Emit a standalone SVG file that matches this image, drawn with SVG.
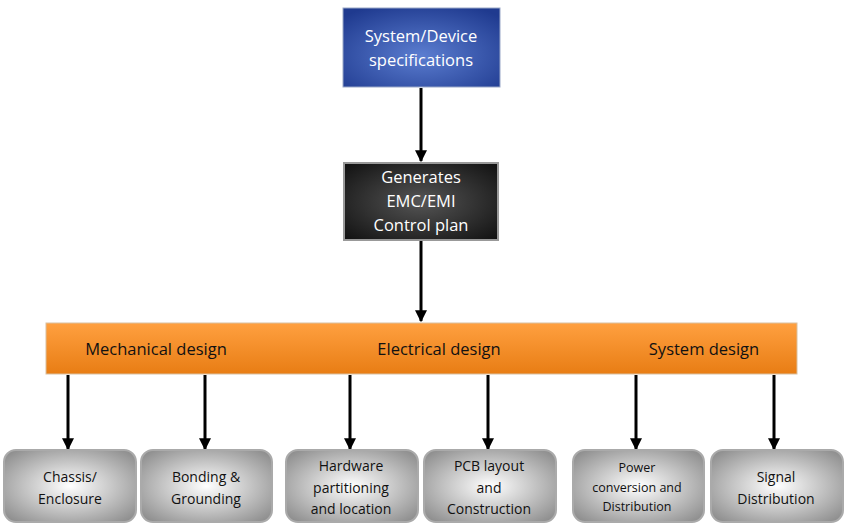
<svg xmlns="http://www.w3.org/2000/svg" width="850" height="528" viewBox="0 0 850 528">
<style>
text{font-family:"Open Sans","Noto Sans",sans-serif;text-anchor:middle}
.w{fill:#fff;font-size:16.5px}
.k{fill:#111;font-size:16.5px}
.s{fill:#111;font-size:14px}
.c{stroke:#000;stroke-width:3;fill:none;marker-end:url(#a)}
.g{fill:url(#gr);stroke:#aaa;stroke-width:2}
</style>
<defs>
<marker id="a" viewBox="0 0 10 10" refX="9" refY="5" markerWidth="4" markerHeight="4" orient="auto"><path d="M0,0L10,5L0,10z" fill="#000"/></marker>
<radialGradient id="bl" cx="50%" cy="60%" r="70%"><stop offset="0" stop-color="#5b7dd0"/><stop offset="1" stop-color="#1f3a8f"/></radialGradient>
<radialGradient id="bk" cx="50%" cy="50%" r="70%"><stop offset="0" stop-color="#555"/><stop offset="1" stop-color="#111"/></radialGradient>
<linearGradient id="or" x1="0" y1="0" x2="0" y2="1"><stop offset="0" stop-color="#ffa040"/><stop offset="1" stop-color="#e87d14"/></linearGradient>
<radialGradient id="gr" cx="50%" cy="50%" r="65%"><stop offset="0" stop-color="#fff"/><stop offset="1" stop-color="#8e8e8e"/></radialGradient>
</defs>
<g id="connectors">
<path class="c" d="M421,88V161"/>
<path class="c" d="M421,241V321"/>
<path class="c" d="M68,375V449"/>
<path class="c" d="M205,375V449"/>
<path class="c" d="M350,375V449"/>
<path class="c" d="M488,375V449"/>
<path class="c" d="M636,375V449"/>
<path class="c" d="M774,375V449"/>
</g>
<g id="spec"><rect x="343" y="8" width="157" height="79" fill="url(#bl)" stroke="#9aa8c8"/><text class="w" x="421" y="42">System/Device</text><text class="w" x="421" y="66">specifications</text></g>
<g id="plan"><rect x="344" y="163" width="154" height="77" fill="url(#bk)" stroke="#999" stroke-width="2"/><text class="w" x="421" y="183">Generates</text><text class="w" x="421" y="207">EMC/EMI</text><text class="w" x="421" y="231">Control plan</text></g>
<g id="bar"><rect x="46" y="323" width="751" height="51" fill="url(#or)" stroke="#d9c0a0"/><text class="k" x="156" y="355">Mechanical design</text><text class="k" x="439" y="355">Electrical design</text><text class="k" x="704" y="355">System design</text></g>
<g id="n1"><rect class="g" x="4" y="450" width="132" height="72" rx="12"/><text class="s" x="70" y="482">Chassis/</text><text class="s" x="70" y="504">Enclosure</text></g>
<g id="n2"><rect class="g" x="141" y="450" width="131" height="72" rx="12"/><text class="s" x="206" y="482">Bonding &amp;</text><text class="s" x="206" y="504">Grounding</text></g>
<g id="n3"><rect class="g" x="286" y="450" width="132" height="72" rx="12"/><text class="s" x="351" y="471">Hardware</text><text class="s" x="351" y="493">partitioning</text><text class="s" x="351" y="514">and location</text></g>
<g id="n4"><rect class="g" x="424" y="450" width="132" height="72" rx="12"/><text class="s" x="489" y="471">PCB layout</text><text class="s" x="489" y="493">and</text><text class="s" x="489" y="514">Construction</text></g>
<g id="n5"><rect class="g" x="573" y="450" width="131" height="72" rx="12"/><text class="s" x="637" y="472" style="font-size:12.5px">Power</text><text class="s" x="637" y="492" style="font-size:12.5px">conversion and</text><text class="s" x="637" y="511" style="font-size:12.5px">Distribution</text></g>
<g id="n6"><rect class="g" x="711" y="450" width="132" height="72" rx="12"/><text class="s" x="776" y="482">Signal</text><text class="s" x="776" y="504">Distribution</text></g>
</svg>
